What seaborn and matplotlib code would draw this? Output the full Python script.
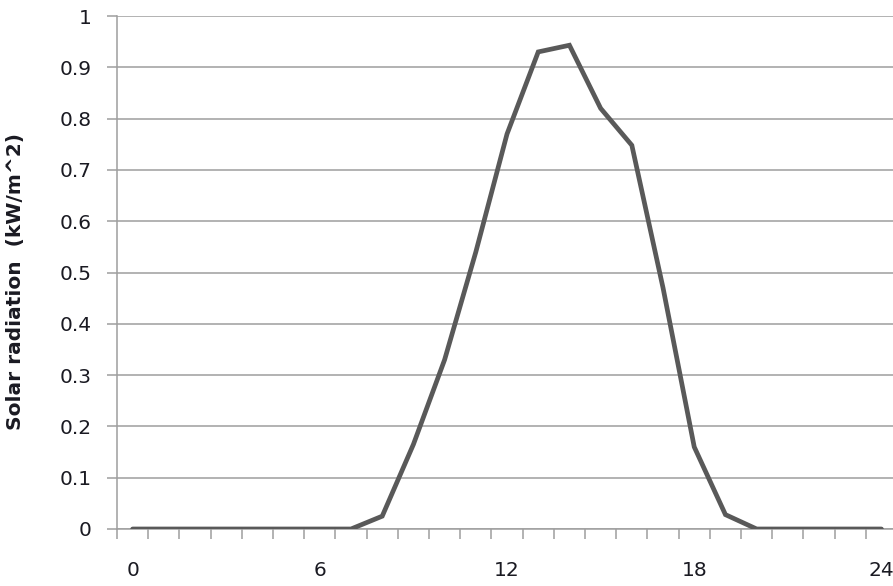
import numpy as np
import pandas as pd
import matplotlib
matplotlib.use("Agg")
import matplotlib.pyplot as plt
from matplotlib.ticker import FixedLocator
import seaborn as sns

# Hourly solar radiation over one day
hours = list(range(25))
radiation = [0, 0, 0, 0, 0, 0, 0, 0,
             0.025, 0.165, 0.33, 0.54, 0.77, 0.93, 0.943, 0.82,
             0.748, 0.47, 0.16, 0.028, 0, 0, 0, 0, 0]
x_labels = ["0", "6", "12", "18", "24"]
x_label_hours = [0, 6, 12, 18, 24]
y_label = "Solar radiation  (kW/m^2)"

sns.set_theme(style="white")
plt.rcParams["font.family"] = ["DejaVu Sans"]

df = pd.DataFrame({"hour": hours, "radiation": radiation})

fig = plt.figure(figsize=(8.93, 5.86), dpi=100)
ax = fig.add_axes([117 / 893, 57 / 586, 1 - 117 / 893, 513 / 586])

grid_color = "#9e9e9e"
text_color = "#1a1a22"

sns.lineplot(data=df, x="hour", y="radiation", ax=ax, color="#595959",
             linewidth=3.4, solid_capstyle="round", solid_joinstyle="miter",
             zorder=5)

ax.set_xlim(-0.5, 24.37)
ax.set_ylim(0, 1)

# y axis: ticks every 0.1 with horizontal gridlines
yt = np.round(np.arange(0, 1.0001, 0.1), 1)
ax.set_yticks(yt)
ax.set_yticklabels(["0" if v == 0 else ("1" if v == 1 else f"{v:.1f}") for v in yt])
ax.yaxis.grid(True, color=grid_color, linewidth=1.1)
ax.xaxis.grid(False)

# x axis: labels centred on hours, tick marks between hours
ax.xaxis.set_major_locator(FixedLocator(x_label_hours))
ax.set_xticklabels(x_labels)
ax.xaxis.set_minor_locator(FixedLocator(np.arange(-0.5, 25, 1.0)))

ax.tick_params(axis="x", which="major", length=0, pad=23, labelsize=14.5,
               colors=text_color)
ax.tick_params(axis="x", which="minor", bottom=True, length=7.2, width=1.1,
               color=grid_color)
ax.tick_params(axis="y", which="major", left=True, length=7.2, width=1.1,
               color=grid_color, pad=11, labelsize=14.5, labelcolor=text_color)

for side in ("top", "right"):
    ax.spines[side].set_visible(False)
for side in ("left", "bottom"):
    ax.spines[side].set_color(grid_color)
    ax.spines[side].set_linewidth(1.1)

ax.set_xlabel("")
ax.set_ylabel(y_label, fontsize=14.5, fontweight="bold", color=text_color)
ax.yaxis.set_label_coords(-(117 - 25) / 776, (529 - 281) / 513)

fig.savefig("out.png", dpi=100)
